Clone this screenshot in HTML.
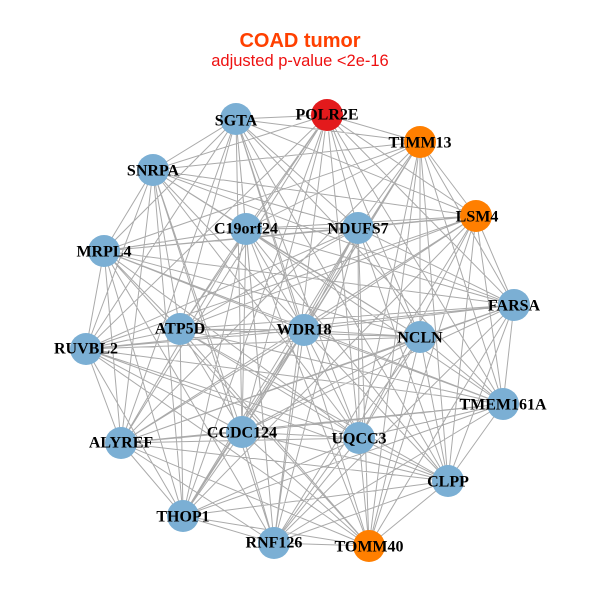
<!DOCTYPE html>
<html><head><meta charset="utf-8"><style>
html,body{margin:0;padding:0;background:#fff;}
svg{display:block;}
.l{font-family:"Liberation Serif",serif;font-weight:bold;font-size:16px;fill:#000;text-anchor:middle;dominant-baseline:central;}
</style></head><body>
<svg id="s" width="600" height="600" viewBox="0 0 600 600">
<rect width="600" height="600" fill="#fff"/>
<text x="300" y="47" text-anchor="middle" font-family="Liberation Sans,sans-serif" font-weight="bold" font-size="20" fill="#ff4000">COAD tumor</text>
<text x="300" y="66" text-anchor="middle" font-family="Liberation Sans,sans-serif" font-size="16.5" fill="#ee1111">adjusted p-value &lt;2e-16</text>
<g id="e" stroke="#aaaaaa" stroke-width="1"></g>
<g id="n"></g>
<g id="t">
<text class="l" x="327" y="115">POLR2E</text>
<text class="l" x="236" y="121">SGTA</text>
<text class="l" x="420" y="143">TIMM13</text>
<text class="l" x="153" y="171">SNRPA</text>
<text class="l" x="477" y="217">LSM4</text>
<text class="l" x="246" y="229">C19orf24</text>
<text class="l" x="358" y="229">NDUFS7</text>
<text class="l" x="104" y="252">MRPL4</text>
<text class="l" x="514" y="306">FARSA</text>
<text class="l" x="180" y="329">ATP5D</text>
<text class="l" x="304" y="330">WDR18</text>
<text class="l" x="420" y="338">NCLN</text>
<text class="l" x="86" y="349">RUVBL2</text>
<text class="l" x="503" y="405">TMEM161A</text>
<text class="l" x="242" y="433">CCDC124</text>
<text class="l" x="359" y="439">UQCC3</text>
<text class="l" x="121" y="443">ALYREF</text>
<text class="l" x="448" y="482">CLPP</text>
<text class="l" x="183" y="517">THOP1</text>
<text class="l" x="274" y="543">RNF126</text>
<text class="l" x="369" y="547">TOMM40</text>
</g>
</svg>
<script>
var N=[[327,115,"#e31a1c"],[236,119],[420,142,"#ff7f00"],[153,170],[476,216,"#ff7f00"],[246,229],[358,228],[104,251],[514,305],[180,329],[304,330],[420,337],[86,349],[503,404],[242,432],[359,438],[121,443],[448,481],[183,516],[274,543],[369,546,"#ff7f00"]];
var ns="http://www.w3.org/2000/svg",e=document.getElementById("e"),g=document.getElementById("n");
var d="";
for(var i=0;i<N.length;i++)for(var j=i+1;j<N.length;j++){
 if(((i*7+j*3)%10)<2)continue;
 d+="M"+N[i][0]+" "+N[i][1]+"L"+N[j][0]+" "+N[j][1];
}
var p=document.createElementNS(ns,"path");p.setAttribute("d",d);p.setAttribute("fill","none");e.appendChild(p);
N.forEach(function(n){var c=document.createElementNS(ns,"circle");c.setAttribute("cx",n[0]);c.setAttribute("cy",n[1]);c.setAttribute("r",16);c.setAttribute("fill",n[2]||"#7bafd4");g.appendChild(c);});
</script>
</body></html>
